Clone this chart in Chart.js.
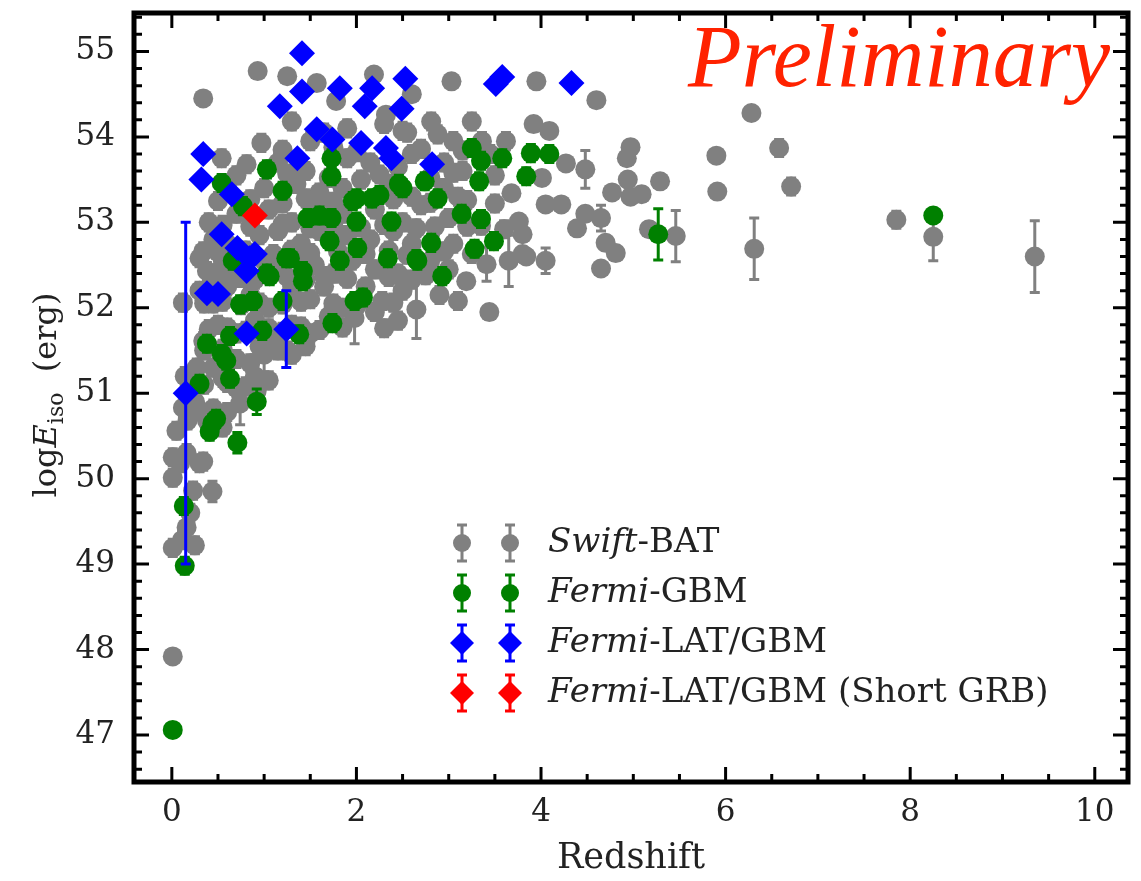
<!DOCTYPE html>
<html lang="en">
<head>
  <meta charset="UTF-8">
  <title>Eiso vs redshift</title>
  <script src="https://cdn.jsdelivr.net/npm/chart.js@4.4.1/dist/chart.umd.min.js"></script>
  <style>
    body { margin: 0; background: #fff; }
    #wrap { width: 1141px; height: 881px; }
  </style>
</head>
<body>
  <div id="wrap"><canvas id="grb" width="1141" height="881"></canvas></div>
  <script>
    // axis setup
    const xTicks = [0, 2, 4, 6, 8, 10];
    const yTicks = [47, 48, 49, 50, 51, 52, 53, 54, 55];
    const xRange = [-0.41, 10.36];
    const yRange = [46.45, 55.45];

    // [redshift, logEiso, error]
    const swiftBAT = [
      [0.01, 47.92, 0.08], [0.01, 49.19, 0.1], [0.11, 49.28, 0.1], [0.25, 49.22, 0.1], [0.16, 49.43, 0.2],
      [0.2, 49.6, 0.1], [0.44, 49.85, 0.12], [0.23, 49.86, 0.1], [0.01, 50.01, 0.1], [0.09, 50.18, 0.1],
      [0.3, 50.18, 0.1], [0.34, 50.2, 0.1], [0.01, 50.25, 0.1], [0.16, 50.3, 0.1], [0.05, 50.56, 0.1],
      [0.17, 50.68, 0.1], [0.38, 50.68, 0.1], [0.55, 50.6, 0.1], [0.12, 50.83, 0.1], [0.25, 50.9, 0.1],
      [0.74, 50.88, 0.25], [0.7, 51.06, 0.1], [0.92, 51.03, 0.12], [0.14, 51.2, 0.1], [0.27, 51.3, 0.1],
      [0.55, 51.18, 0.1], [0.45, 51.3, 0.1], [0.34, 51.61, 0.1], [0.12, 52.06, 0.1], [0.3, 52.58, 0.1],
      [0.38, 52.43, 0.1], [0.34, 52.66, 0.1], [0.34, 54.45, 0.05], [0.93, 54.77, 0.05], [1.25, 54.71, 0.05],
      [1.57, 54.63, 0.05], [1.78, 54.42, 0.05], [2.19, 54.73, 0.05], [2.6, 54.5, 0.05], [2.32, 54.26, 0.05],
      [3.03, 54.65, 0.05], [3.95, 54.65, 0.05], [4.6, 54.43, 0.05], [6.28, 54.28, 0.05],
      [1.3, 54.18, 0.1], [0.97, 53.93, 0.1], [1.5, 53.95, 0.1], [1.65, 54.05, 0.1], [1.9, 54.1, 0.1],
      [2.3, 54.15, 0.1], [2.55, 54.05, 0.1], [2.81, 54.18, 0.1], [2.88, 54.03, 0.1], [3.25, 54.18, 0.1],
      [3.36, 53.95, 0.1], [3.62, 53.95, 0.1], [3.92, 54.15, 0.08], [4.09, 54.07, 0.08], [2.5, 54.07, 0.1],
      [3.05, 53.95, 0.1], [0.54, 53.75, 0.1], [0.81, 53.68, 0.1], [1.15, 53.7, 0.1], [1.45, 53.6, 0.1],
      [1.9, 53.75, 0.1], [2.15, 53.7, 0.1], [2.45, 53.65, 0.1], [2.6, 53.8, 0.1], [2.95, 53.7, 0.1],
      [3.15, 53.6, 0.1], [4.01, 53.52, 0.08], [4.27, 53.69, 0.08], [4.48, 53.62, 0.22], [4.97, 53.88, 0.08],
      [4.93, 53.75, 0.08], [5.9, 53.78, 0.06], [6.58, 53.87, 0.1], [0.6, 53.4, 0.1], [1.0, 53.4, 0.1],
      [1.35, 53.45, 0.1], [1.6, 53.35, 0.1], [1.85, 53.4, 0.1], [2.05, 53.5, 0.1], [2.35, 53.45, 0.1],
      [2.6, 53.3, 0.1], [2.95, 53.4, 0.1], [3.1, 53.3, 0.1], [3.68, 53.34, 0.08], [4.94, 53.5, 0.08],
      [5.29, 53.48, 0.08], [4.77, 53.35, 0.08], [4.97, 53.3, 0.08], [5.09, 53.33, 0.08], [5.91, 53.36, 0.06],
      [6.71, 53.42, 0.1], [0.4, 53.0, 0.1], [0.7, 53.1, 0.1], [1.05, 53.15, 0.1], [1.3, 53.0, 0.1],
      [1.55, 53.2, 0.1], [1.85, 53.1, 0.1], [2.2, 53.15, 0.1], [2.5, 53.0, 0.1], [2.7, 53.2, 0.1],
      [3.0, 53.05, 0.1], [3.2, 52.95, 0.1], [4.05, 53.21, 0.08], [4.22, 53.21, 0.08], [3.76, 53.01, 0.08],
      [4.48, 53.1, 0.08], [4.65, 53.05, 0.15], [7.85, 53.03, 0.1], [0.45, 52.8, 0.1], [0.6, 52.75, 0.1],
      [0.95, 52.85, 0.1], [1.15, 52.9, 0.1], [1.4, 52.75, 0.1], [1.6, 52.9, 0.1], [1.9, 52.85, 0.1],
      [2.15, 52.8, 0.1], [2.4, 52.9, 0.1], [2.6, 52.75, 0.1], [2.85, 52.95, 0.1], [3.05, 52.75, 0.1],
      [3.8, 52.86, 0.08], [4.39, 52.93, 0.08], [5.17, 52.92, 0.08], [5.46, 52.84, 0.3], [8.25, 52.83, 0.28],
      [4.7, 52.76, 0.08], [0.55, 52.5, 0.1], [0.75, 52.35, 0.1], [1.0, 52.55, 0.1], [1.15, 52.45, 0.1],
      [1.35, 52.6, 0.1], [1.55, 52.5, 0.1], [1.75, 52.4, 0.1], [1.95, 52.55, 0.1], [2.2, 52.45, 0.1],
      [2.45, 52.4, 0.1], [2.8, 52.55, 0.1], [3.0, 52.45, 0.1], [3.41, 52.51, 0.2], [3.65, 52.55, 0.3],
      [3.84, 52.6, 0.08], [4.05, 52.55, 0.15], [3.8, 52.63, 0.08], [4.81, 52.64, 0.08], [4.65, 52.46, 0.08],
      [6.31, 52.69, 0.36], [9.35, 52.6, 0.42], [3.19, 52.31, 0.08], [0.3, 52.2, 0.1], [0.45, 52.05, 0.1],
      [0.6, 52.25, 0.1], [0.85, 52.15, 0.1], [1.05, 52.0, 0.1], [1.3, 52.2, 0.1], [1.5, 52.1, 0.1],
      [1.65, 52.25, 0.1], [1.85, 52.0, 0.1], [2.1, 52.25, 0.1], [2.28, 52.08, 0.1], [2.5, 52.2, 0.1],
      [2.65, 51.98, 0.34], [2.9, 52.15, 0.1], [3.44, 51.95, 0.08], [0.5, 51.8, 0.1], [0.7, 51.7, 0.1],
      [0.9, 51.85, 0.1], [1.1, 51.6, 0.1], [1.3, 51.8, 0.1], [1.5, 51.7, 0.1], [1.7, 51.9, 0.1],
      [1.98, 51.88, 0.3], [2.2, 51.95, 0.1], [2.45, 51.85, 0.1], [0.7, 51.4, 0.1], [0.85, 51.35, 0.1],
      [1.0, 51.45, 0.2], [1.15, 51.5, 0.1], [1.3, 51.45, 0.1], [1.45, 51.55, 0.1], [0.9, 51.2, 0.25],
      [1.2, 53.85, 0.1], [1.75, 53.88, 0.1], [2.0, 53.82, 0.1], [2.7, 53.86, 0.1], [3.15, 53.84, 0.1],
      [3.45, 53.8, 0.1], [0.7, 53.55, 0.1], [1.25, 53.57, 0.1], [1.7, 53.52, 0.1], [2.25, 53.56, 0.1],
      [2.8, 53.53, 0.1], [3.05, 53.58, 0.1], [3.5, 53.55, 0.1], [0.5, 53.25, 0.1], [0.85, 53.27, 0.1],
      [1.2, 53.22, 0.1], [1.45, 53.28, 0.1], [1.75, 53.24, 0.1], [2.4, 53.27, 0.1], [2.8, 53.23, 0.1],
      [3.2, 53.26, 0.1], [3.5, 53.22, 0.1], [0.55, 52.97, 0.1], [0.85, 52.95, 0.1], [1.2, 52.98, 0.1],
      [1.5, 52.93, 0.1], [1.75, 52.96, 0.1], [2.05, 52.94, 0.1], [2.3, 52.97, 0.1], [2.65, 52.93, 0.1],
      [3.35, 52.96, 0.1], [3.6, 52.92, 0.1], [0.5, 52.65, 0.1], [0.8, 52.67, 0.1], [1.1, 52.63, 0.1],
      [1.3, 52.68, 0.1], [1.5, 52.64, 0.1], [1.8, 52.66, 0.1], [2.1, 52.63, 0.1], [2.35, 52.67, 0.1],
      [2.55, 52.62, 0.1], [2.95, 52.66, 0.1], [3.25, 52.63, 0.1], [0.45, 52.35, 0.1], [0.65, 52.37, 0.1],
      [0.9, 52.33, 0.1], [1.25, 52.36, 0.1], [1.45, 52.33, 0.1], [1.65, 52.37, 0.1], [1.9, 52.34, 0.1],
      [2.35, 52.36, 0.1], [2.6, 52.33, 0.1], [2.75, 52.38, 0.1], [0.35, 52.05, 0.1], [0.55, 52.07, 0.1],
      [0.75, 52.03, 0.1], [0.95, 52.06, 0.1], [1.2, 52.04, 0.1], [1.4, 52.07, 0.1], [1.75, 52.05, 0.1],
      [2.0, 52.02, 0.1], [2.4, 52.06, 0.1], [3.1, 52.08, 0.1], [0.4, 51.75, 0.1], [0.6, 51.77, 0.1],
      [0.8, 51.73, 0.1], [1.05, 51.76, 0.1], [1.2, 51.72, 0.1], [1.4, 51.78, 0.1], [1.6, 51.74, 0.1],
      [1.85, 51.77, 0.1], [2.3, 51.76, 0.1], [0.35, 51.5, 0.1], [0.55, 51.52, 0.1], [0.95, 51.55, 0.1],
      [1.25, 51.5, 0.1], [0.35, 51.1, 0.1], [0.6, 51.12, 0.1], [0.8, 51.08, 0.1], [1.05, 51.15, 0.1],
      [0.3, 50.8, 0.1], [0.45, 50.82, 0.1], [0.6, 50.78, 0.1]
    ];

    const fermiGBM = [
      [0.01, 47.06, 0.05], [0.14, 48.98, 0.1], [0.13, 49.68, 0.1], [0.41, 50.55, 0.1], [0.44, 50.65, 0.1],
      [0.48, 50.7, 0.1], [0.71, 50.42, 0.12], [0.92, 50.9, 0.15], [0.3, 51.11, 0.1], [0.63, 51.17, 0.1],
      [0.59, 51.38, 0.1], [0.54, 51.46, 0.1], [0.38, 51.58, 0.1], [0.63, 51.67, 0.1], [0.98, 51.73, 0.1],
      [1.38, 51.69, 0.1], [0.74, 52.04, 0.1], [0.88, 52.08, 0.1], [1.2, 52.08, 0.1], [1.06, 52.37, 0.1],
      [1.42, 52.31, 0.1], [0.66, 52.55, 0.1], [1.24, 52.58, 0.1], [1.82, 52.55, 0.1], [1.98, 52.08, 0.1],
      [2.07, 52.12, 0.1], [1.74, 51.82, 0.1], [0.54, 53.46, 0.1], [0.77, 53.19, 0.1], [1.03, 53.62, 0.1],
      [1.2, 53.37, 0.1], [1.73, 53.75, 0.1], [1.73, 53.54, 0.1], [1.47, 53.05, 0.1], [1.6, 53.08, 0.1],
      [1.73, 53.05, 0.1], [1.71, 52.78, 0.1], [2.0, 53.28, 0.1], [2.17, 53.28, 0.1], [2.25, 53.32, 0.1],
      [1.96, 53.25, 0.1], [2.0, 53.01, 0.1], [2.01, 52.7, 0.1], [2.38, 53.01, 0.1], [2.46, 53.45, 0.1],
      [2.5, 53.4, 0.1], [2.74, 53.48, 0.1], [2.88, 53.28, 0.1], [3.14, 53.1, 0.1], [3.35, 53.04, 0.1],
      [3.49, 52.78, 0.1], [3.28, 52.69, 0.1], [2.81, 52.76, 0.1], [2.65, 52.57, 0.1], [2.34, 52.58, 0.1],
      [2.66, 52.55, 0.1], [2.93, 52.37, 0.1], [3.25, 53.87, 0.1], [3.35, 53.72, 0.1], [3.33, 53.48, 0.1],
      [3.58, 53.75, 0.1], [3.89, 53.81, 0.1], [4.09, 53.8, 0.1], [3.84, 53.54, 0.1], [1.28, 52.58, 0.1],
      [1.03, 52.4, 0.1], [1.42, 52.43, 0.1], [5.27, 52.86, 0.3], [8.25, 53.08, 0.05]
    ];

    const fermiLAT = [
      [1.41, 54.98, 0.05], [1.41, 54.53, 0.05], [1.82, 54.57, 0.05], [1.17, 54.36, 0.05], [1.57, 54.09, 0.05],
      [1.74, 53.97, 0.05], [1.36, 53.75, 0.05], [0.34, 53.8, 0.05], [0.32, 53.5, 0.05], [0.65, 53.33, 0.05],
      [0.54, 52.86, 0.05], [0.71, 52.7, 0.05], [0.9, 52.63, 0.05], [0.84, 52.58, 0.05], [0.81, 52.43, 0.05],
      [0.38, 52.17, 0.05], [0.5, 52.16, 0.05], [0.81, 51.7, 0.05], [1.24, 51.75, 0.45], [0.15, 51.0, 2.0],
      [2.17, 54.57, 0.05], [2.53, 54.68, 0.05], [2.09, 54.36, 0.05], [2.49, 54.33, 0.05], [2.05, 53.93, 0.05],
      [2.32, 53.87, 0.05], [2.38, 53.75, 0.05], [2.82, 53.68, 0.05], [3.51, 54.62, 0.05], [3.58, 54.7, 0.05],
      [4.33, 54.63, 0.05]
    ];

    const fermiShort = [
      [0.9, 53.08, 0.05]
    ];

    const series = [
      { label: 'Swift', suffix: '-BAT', data: swiftBAT, color: '#808080', shape: 'circle', r: 10, order: 4 },
      { label: 'Fermi', suffix: '-GBM', data: fermiGBM, color: '#008000', shape: 'circle', r: 10, order: 3 },
      { label: 'Fermi', suffix: '-LAT/GBM', data: fermiLAT, color: '#0000ff', shape: 'rectRot', r: 13, order: 2 },
      { label: 'Fermi', suffix: '-LAT/GBM (Short GRB)', data: fermiShort, color: '#ff0000', shape: 'rectRot', r: 13, order: 1 }
    ];

    const serif = '"DejaVu Serif", serif';

    // vertical error bars, drawn right under each dataset's markers
    const errorBars = {
      id: 'errorBars',
      beforeDatasetDraw(chart, args) {
        const ds = chart.data.datasets[args.index];
        const { x, y } = chart.scales;
        const ctx = chart.ctx;
        ctx.save();
        ctx.strokeStyle = ds.borderColor;
        ctx.lineWidth = 3;
        ds.data.forEach(p => {
          if (!p.err) return;
          const px = x.getPixelForValue(p.x);
          const top = y.getPixelForValue(p.y + p.err);
          const bot = y.getPixelForValue(p.y - p.err);
          ctx.beginPath();
          ctx.moveTo(px, top); ctx.lineTo(px, bot);
          ctx.moveTo(px - 5, top); ctx.lineTo(px + 5, top);
          ctx.moveTo(px - 5, bot); ctx.lineTo(px + 5, bot);
          ctx.stroke();
        });
        ctx.restore();
      }
    };

    const drawMarker = (ctx, shape, cx, cy, r, color) => {
      ctx.fillStyle = color;
      ctx.strokeStyle = color;
      ctx.lineWidth = 3;
      ctx.beginPath();
      ctx.moveTo(cx, cy - 18); ctx.lineTo(cx, cy + 18);
      ctx.moveTo(cx - 5, cy - 18); ctx.lineTo(cx + 5, cy - 18);
      ctx.moveTo(cx - 5, cy + 18); ctx.lineTo(cx + 5, cy + 18);
      ctx.stroke();
      ctx.beginPath();
      if (shape === 'circle') {
        ctx.arc(cx, cy, r, 0, Math.PI * 2);
      } else {
        ctx.moveTo(cx, cy - r); ctx.lineTo(cx + r, cy);
        ctx.lineTo(cx, cy + r); ctx.lineTo(cx - r, cy);
        ctx.closePath();
      }
      ctx.fill();
    };

    // frame, inward ticks, axis titles, legend and watermark
    const decorations = {
      id: 'decorations',
      afterDraw(chart) {
        const ctx = chart.ctx;
        const { left, right, top, bottom } = chart.chartArea;
        const { x, y } = chart.scales;
        ctx.save();
        ctx.strokeStyle = '#000';
        ctx.lineWidth = 3;
        ctx.beginPath();
        for (let k = 0; k <= 20; k++) {
          const px = x.getPixelForValue(k * 0.5);
          const len = k % 4 === 0 ? 15 : 8;
          ctx.moveTo(px, bottom); ctx.lineTo(px, bottom - len);
          ctx.moveTo(px, top); ctx.lineTo(px, top + len);
        }
        for (let i = 233; i <= 277; i++) {
          const py = y.getPixelForValue(i / 5);
          const len = i % 5 === 0 ? 15 : 8;
          ctx.moveTo(left, py); ctx.lineTo(left + len, py);
          ctx.moveTo(right, py); ctx.lineTo(right - len, py);
        }
        ctx.stroke();
        ctx.lineWidth = 5;
        ctx.strokeRect(left, top, right - left, bottom - top);

        // x title
        ctx.fillStyle = '#222';
        ctx.font = '35px ' + serif;
        ctx.textAlign = 'center';
        ctx.textBaseline = 'alphabetic';
        ctx.fillText('Redshift', (left + right) / 2, 868);

        // y title with italic E and subscript
        ctx.save();
        ctx.translate(56, 395);
        ctx.rotate(-Math.PI / 2);
        const parts = [
          { t: 'log', f: '32px ' + serif, dy: 0 },
          { t: 'E', f: 'italic 32px ' + serif, dy: 0 },
          { t: 'iso', f: '22px ' + serif, dy: 7 },
          { t: '  (erg)', f: '32px ' + serif, dy: 0 }
        ];
        let total = 0;
        parts.forEach(p => { ctx.font = p.f; p.w = ctx.measureText(p.t).width; total += p.w; });
        let cx = -total / 2;
        ctx.textAlign = 'left';
        parts.forEach(p => { ctx.font = p.f; ctx.fillText(p.t, cx, p.dy); cx += p.w; });
        ctx.restore();

        // legend
        series.forEach((s, i) => {
          const ly = 543 + i * 50;
          drawMarker(ctx, s.shape, 462, ly, s.shape === 'circle' ? 9 : 12, s.color);
          drawMarker(ctx, s.shape, 510, ly, s.shape === 'circle' ? 9 : 12, s.color);
          ctx.fillStyle = '#222';
          ctx.textAlign = 'left';
          ctx.textBaseline = 'middle';
          ctx.font = 'italic 34px ' + serif;
          ctx.fillText(s.label, 548, ly);
          const w = ctx.measureText(s.label).width;
          ctx.font = '34px ' + serif;
          ctx.fillText(s.suffix, 548 + w, ly);
        });

        // watermark
        ctx.fillStyle = 'rgb(255,34,0)';
        ctx.font = 'italic 88px "Liberation Serif", serif';
        ctx.textAlign = 'right';
        ctx.textBaseline = 'alphabetic';
        ctx.fillText('Preliminary', 1110, 86);
        ctx.restore();
      }
    };

    new Chart(document.getElementById('grb'), {
      type: 'scatter',
      data: {
        datasets: series.map(s => ({
          label: s.label + s.suffix,
          data: s.data.map(p => ({ x: p[0], y: p[1], err: p[2] })),
          backgroundColor: s.color,
          borderColor: s.color,
          borderWidth: 0,
          pointStyle: s.shape,
          pointRadius: s.r,
          order: s.order
        }))
      },
      options: {
        responsive: false,
        animation: false,
        devicePixelRatio: 1,
        layout: { padding: { top: 12, right: 10, left: 0, bottom: 0 } },
        plugins: { legend: { display: false }, tooltip: { enabled: false } },
        scales: {
          x: {
            type: 'linear',
            min: xRange[0],
            max: xRange[1],
            grid: { display: false, drawTicks: false },
            border: { display: false },
            ticks: { color: '#222', font: { family: serif, size: 31 }, padding: 12, maxRotation: 0, autoSkip: false },
            afterBuildTicks: s => { s.ticks = xTicks.map(v => ({ value: v })); },
            afterFit: s => { s.height = 99; s.paddingLeft = 0; s.paddingRight = 0; }
          },
          y: {
            type: 'linear',
            min: yRange[0],
            max: yRange[1],
            grid: { display: false, drawTicks: false },
            border: { display: false },
            ticks: { color: '#222', font: { family: serif, size: 31 }, padding: 19, autoSkip: false },
            afterBuildTicks: s => { s.ticks = yTicks.map(v => ({ value: v })); },
            afterFit: s => { s.width = 134; s.paddingTop = 0; s.paddingBottom = 0; }
          }
        }
      },
      plugins: [errorBars, decorations]
    });
  </script>
</body>
</html>
